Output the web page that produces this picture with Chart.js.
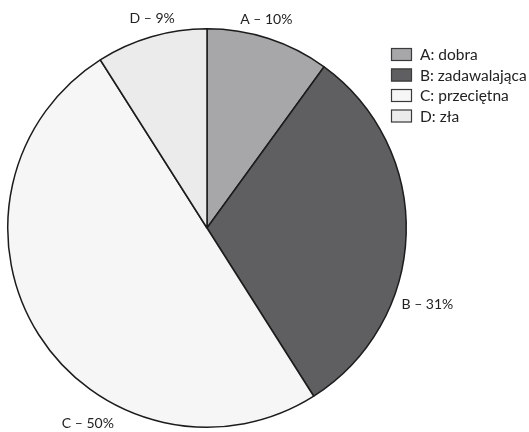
<!DOCTYPE html>
<html>
<head>
<meta charset="utf-8">
<style>
  html, body { margin: 0; padding: 0; background: #ffffff; }
  #wrap { width: 529px; height: 432px; position: relative; }
</style>
<script src="https://cdn.jsdelivr.net/npm/chart.js@4/dist/chart.umd.min.js"></script>
</head>
<body>
<div id="wrap"><canvas id="pie" width="529" height="432"></canvas></div>
<script>
// Survey answers and their shares (%)
const letters = ['A', 'B', 'C', 'D'];
const ratings = ['dobra', 'zadawalająca', 'przeciętna', 'zła'];
const shares = [10, 31, 50, 9];
const sliceColors = ['#a7a7a9', '#5f5f61', '#f6f6f6', '#ebebeb'];

// Where each outside label sits: fraction along its slice, distance past the rim
const labelPlacement = [
  { frac: 0.44, gap: 18 },
  { frac: 0.655, gap: 34 },
  { frac: 0.354, gap: 30 },
  { frac: 0.546, gap: 17 }
];

const LABEL_FONT = '14px Lato, "Open Sans", sans-serif';
const LEGEND_FONT = '15.5px Lato, "Open Sans", sans-serif';

const outsideLabels = {
  id: 'outsideLabels',
  afterDatasetsDraw(chart) {
    const ctx = chart.ctx;
    const arcs = chart.getDatasetMeta(0).data;
    ctx.save();
    ctx.font = LABEL_FONT;
    ctx.fillStyle = '#222222';
    ctx.textAlign = 'center';
    ctx.textBaseline = 'middle';
    arcs.forEach((arc, i) => {
      const p = arc.getProps(['x', 'y', 'startAngle', 'endAngle', 'outerRadius'], true);
      const place = labelPlacement[i];
      const a = p.startAngle + place.frac * (p.endAngle - p.startAngle);
      const r = p.outerRadius + place.gap;
      const text = letters[i] + ' \u2013 ' + shares[i] + '%';
      ctx.fillText(text, p.x + r * Math.cos(a), p.y + r * Math.sin(a));
    });
    ctx.restore();
  }
};

const sideLegend = {
  id: 'sideLegend',
  afterDraw(chart) {
    const ctx = chart.ctx;
    const x0 = 391, y0 = 48, boxW = 21, boxH = 13, step = 20.5;
    ctx.save();
    ctx.font = LEGEND_FONT;
    ctx.textAlign = 'left';
    ctx.textBaseline = 'middle';
    letters.forEach((l, i) => {
      const y = y0 + i * step;
      ctx.fillStyle = sliceColors[i];
      ctx.fillRect(x0, y, boxW, boxH);
      ctx.strokeStyle = '#3a3a3a';
      ctx.lineWidth = 1.2;
      ctx.strokeRect(x0 + 0.5, y + 0.5, boxW - 1, boxH - 1);
      ctx.fillStyle = '#222222';
      ctx.fillText(l + ': ' + ratings[i], x0 + 29, y + boxH / 2 + 0.5);
    });
    ctx.restore();
  }
};

new Chart(document.getElementById('pie'), {
  type: 'pie',
  data: {
    labels: letters.map((l, i) => l + ': ' + ratings[i]),
    datasets: [{
      data: shares,
      backgroundColor: sliceColors,
      borderColor: '#1c1c1c',
      borderWidth: 1.5
    }]
  },
  options: {
    responsive: false,
    animation: false,
    layout: { padding: { left: 7, top: 28, right: 122, bottom: 4 } },
    plugins: {
      legend: { display: false },
      tooltip: { enabled: false }
    }
  },
  plugins: [outsideLabels, sideLegend]
});
</script>
</body>
</html>
